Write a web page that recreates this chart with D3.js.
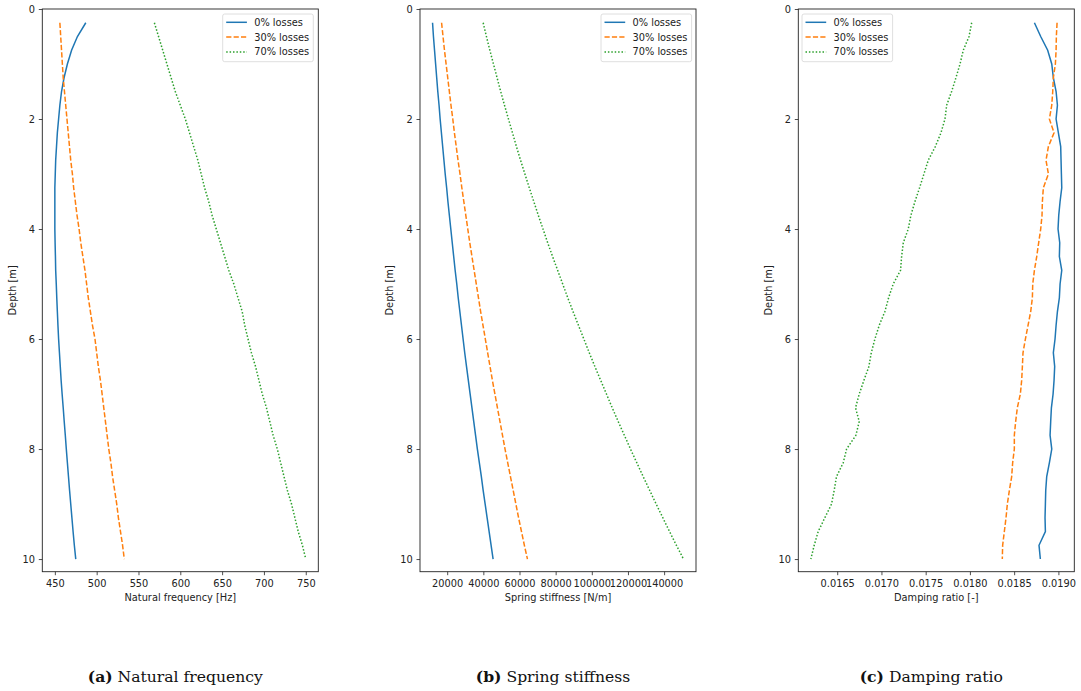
<!DOCTYPE html>
<html>
<head>
<meta charset="utf-8">
<script src="https://cdn.jsdelivr.net/npm/d3@7"></script>
<style>
  body { margin: 0; background: #fff; }
  svg { display: block; }
  text { font-family: "DejaVu Sans", sans-serif; fill: #222; }
  .caption { font-family: "DejaVu Serif", serif; font-size: 15.6px; fill: #111; }
</style>
</head>
<body>
<div id="vis"></div>
<script>
// depth of each sample [m]
var depth = [0.25, 0.5, 0.75, 1, 1.25, 1.5, 1.75, 2, 2.25, 2.5, 2.75, 3, 3.25, 3.5, 3.75, 4,
  4.25, 4.5, 4.75, 5, 5.25, 5.5, 5.75, 6, 6.25, 6.5, 6.75, 7, 7.25, 7.5, 7.75, 8,
  8.25, 8.5, 8.75, 9, 9.25, 9.5, 9.75, 10];

// natural frequency [Hz]
var freq0 = [487, 477, 470, 465, 461, 458, 456, 454.5, 453, 452, 451, 450.5, 450, 450, 450, 450,
  450.3, 450.7, 451, 451.7, 452.3, 453, 453.7, 454.5, 455.5, 456.5, 457.5, 458.7, 460, 461.2, 462.5, 463.7,
  465, 466.3, 467.6, 469, 470.4, 471.8, 473.3, 475];
var freq30 = [456, 457, 458, 459, 460, 461.5, 463, 464.5, 466, 467.5, 469, 471, 472.5, 474.5, 476.5, 479,
  481, 483.5, 486, 488, 490, 492.5, 495, 498, 500, 502, 504.5, 506.5, 508.5, 510.5, 512.5, 514.5,
  517, 519, 521.5, 524, 526, 528.5, 531, 533];
var freq70 = [569, 574, 579, 584, 589, 594, 600, 606, 611, 616, 621, 625, 629, 634, 638, 643,
  648, 653, 658, 664, 669, 674, 677, 681, 685, 690, 694, 698, 703, 707, 711, 716,
  720, 724, 728, 733, 737, 741, 746, 750];

// spring stiffness [N/m]
var stiff0 = [11900, 12400, 13000, 13600, 14200, 14800, 15500, 16100, 16800, 17500, 18200, 18900, 19700, 20400, 21200, 22000,
  22800, 23600, 24400, 25300, 26100, 27000, 27900, 28800, 29700, 30700, 31700, 32700, 33700, 34700, 35700, 36700,
  37800, 38900, 39900, 41000, 42100, 43200, 44300, 45400];
var stiff30 = [16900, 17700, 18500, 19400, 20300, 21200, 22100, 23100, 24000, 25000, 26000, 27100, 28100, 29200, 30300, 31400,
  32500, 33700, 34900, 36100, 37300, 38500, 39800, 41100, 42400, 43700, 45000, 46400, 47800, 49200, 50600, 52000,
  53500, 55000, 56500, 58000, 59500, 61100, 62700, 64400];
var stiff70 = [39900, 41700, 43600, 45600, 47600, 49600, 51700, 53900, 56100, 58300, 60600, 63000, 65400, 67900, 70400, 73000,
  75600, 78300, 81100, 83900, 86700, 89600, 92600, 95600, 98600, 101700, 104900, 108100, 111300, 114600, 118000, 121400,
  124900, 128400, 132000, 135600, 139300, 143000, 146800, 150700];

// damping ratio [-]
var damp0 = [0.018729, 0.018800, 0.018879, 0.018925, 0.018943, 0.018974, 0.018989, 0.018974, 0.019000, 0.019026, 0.019030, 0.019034, 0.019038, 0.019019, 0.019004, 0.018996,
  0.019015, 0.019011, 0.019038, 0.019019, 0.019011, 0.018989, 0.018974, 0.018962, 0.018943, 0.018958, 0.018951, 0.018940, 0.018921, 0.018913, 0.018906, 0.018925,
  0.018898, 0.018868, 0.018857, 0.018853, 0.018849, 0.018853, 0.018781, 0.018796];
var damp30 = [0.018985, 0.018977, 0.018974, 0.018966, 0.018943, 0.018936, 0.018925, 0.018898, 0.018951, 0.018887, 0.018860, 0.018887, 0.018830, 0.018819, 0.018815, 0.018800,
  0.018777, 0.018755, 0.018729, 0.018710, 0.018706, 0.018687, 0.018657, 0.018627, 0.018600, 0.018593, 0.018585, 0.018570, 0.018536, 0.018517, 0.018502, 0.018502,
  0.018483, 0.018472, 0.018446, 0.018423, 0.018408, 0.018389, 0.018370, 0.018366];
var damp70 = [0.018020, 0.017990, 0.017925, 0.017888, 0.017842, 0.017793, 0.017737, 0.017718, 0.017673, 0.017609, 0.017529, 0.017480, 0.017431, 0.017379, 0.017333, 0.017303,
  0.017247, 0.017228, 0.017216, 0.017133, 0.017081, 0.017039, 0.016975, 0.016926, 0.016885, 0.016858, 0.016802, 0.016749, 0.016707, 0.016749, 0.016711, 0.016606,
  0.016568, 0.016492, 0.016466, 0.016436, 0.016360, 0.016285, 0.016240, 0.016202];

// tick labels
var depthTicks = [0, 2, 4, 6, 8, 10];
var freqTicks = [450, 500, 550, 600, 650, 700, 750];
var stiffTicks = [20000, 40000, 60000, 80000, 100000, 120000, 140000];
var dampTicks = [0.0165, 0.0170, 0.0175, 0.0180, 0.0185, 0.0190];

var lossLabels = ['0% losses', '30% losses', '70% losses'];
var lossColors = ['#1f77b4', '#ff7f0e', '#2ca02c'];
var lossDash = [null, '5.2,2.2', '1.5,1.9'];

var captionLetters = ['(a)', '(b)', '(c)'];
var captionTitles = ['Natural frequency', 'Spring stiffness', 'Damping ratio'];
var xLabels = ['Natural frequency [Hz]', 'Spring stiffness [N/m]', 'Damping ratio [-]'];

var width = 1081, height = 691;
var plotTop = 9, plotH = 562.7, plotW = 276;
var lefts = [42.3, 420, 798.3];
var legendX = [222.7, 601, 802];   // legend box left edges

var panels = [
  {series: [freq0, freq30, freq70], ticks: freqTicks, fmt: d3.format('d')},
  {series: [stiff0, stiff30, stiff70], ticks: stiffTicks, fmt: d3.format('d')},
  {series: [damp0, damp30, damp70], ticks: dampTicks, fmt: d3.format('.4f')}
];

var svg = d3.select('#vis').append('svg')
  .attr('width', width)
  .attr('height', height);

var y = d3.scaleLinear().domain([0, 10.23]).range([plotTop, plotTop + plotH]);

panels.forEach(function(p, i) {
  var left = lefts[i];
  var all = d3.merge(p.series);
  var lo = d3.min(all), hi = d3.max(all), pad = (hi - lo) * 0.05;
  var x = d3.scaleLinear().domain([lo - pad, hi + pad]).range([left, left + plotW]);

  var g = svg.append('g');

  // curves
  var line = d3.line()
    .x(function(d) { return x(d[0]); })
    .y(function(d) { return y(d[1]); });

  p.series.forEach(function(s, k) {
    g.append('path')
      .datum(d3.zip(s, depth))
      .attr('fill', 'none')
      .attr('stroke', lossColors[k])
      .attr('stroke-width', 1.5)
      .attr('stroke-dasharray', lossDash[k])
      .attr('d', line);
  });

  // axes
  var xAxis = g.append('g')
    .attr('transform', 'translate(0,' + (plotTop + plotH) + ')')
    .call(d3.axisBottom(x).tickValues(p.ticks).tickFormat(p.fmt).tickSize(3.5).tickPadding(5).tickSizeOuter(0));
  var yAxis = g.append('g')
    .attr('transform', 'translate(' + left + ',0)')
    .call(d3.axisLeft(y).tickValues(depthTicks).tickSize(3.5).tickPadding(3.8).tickSizeOuter(0));
  [xAxis, yAxis].forEach(function(a) {
    a.select('.domain').remove();
    a.selectAll('line').attr('stroke', '#222').attr('stroke-width', 0.8);
    a.selectAll('text').attr('font-size', '9.8px').attr('font-family', 'DejaVu Sans').attr('fill', '#222');
  });

  // frame
  g.append('rect')
    .attr('x', left).attr('y', plotTop)
    .attr('width', plotW).attr('height', plotH)
    .attr('fill', 'none')
    .attr('stroke', '#222')
    .attr('stroke-width', 0.9);

  // axis labels
  g.append('text')
    .attr('x', left + plotW / 2)
    .attr('y', 600.5)
    .attr('text-anchor', 'middle')
    .attr('font-size', '9.8px')
    .text(xLabels[i]);

  g.append('text')
    .attr('transform', 'translate(' + (left - 30) + ',' + (plotTop + plotH / 2) + ') rotate(-90)')
    .attr('text-anchor', 'middle')
    .attr('dy', '0.35em')
    .attr('font-size', '9.8px')
    .text('Depth [m]');

  // legend
  var lg = g.append('g').attr('transform', 'translate(' + legendX[i] + ',14)');
  lg.append('rect')
    .attr('width', 90.6).attr('height', 47.7)
    .attr('rx', 2).attr('ry', 2)
    .attr('fill', '#fff').attr('fill-opacity', 0.8)
    .attr('stroke', '#d5d5d5').attr('stroke-width', 0.8);
  lossLabels.forEach(function(lab, k) {
    var cy = 8.3 + k * 14.8;
    lg.append('line')
      .attr('x1', 3.5).attr('x2', 24.2)
      .attr('y1', cy).attr('y2', cy)
      .attr('stroke', lossColors[k])
      .attr('stroke-width', 1.5)
      .attr('stroke-dasharray', lossDash[k]);
    lg.append('text')
      .attr('x', 31.5).attr('y', cy)
      .attr('dy', '0.35em')
      .attr('font-size', '9.8px')
      .text(lab);
  });

  // caption
  var cap = svg.append('text')
    .attr('class', 'caption')
    .attr('x', left + plotW / 2 - 5)
    .attr('y', 682)
    .attr('text-anchor', 'middle');
  cap.append('tspan').attr('font-weight', 'bold').text(captionLetters[i]);
  cap.append('tspan').text(' ' + captionTitles[i]);
});
</script>
</body>
</html>
